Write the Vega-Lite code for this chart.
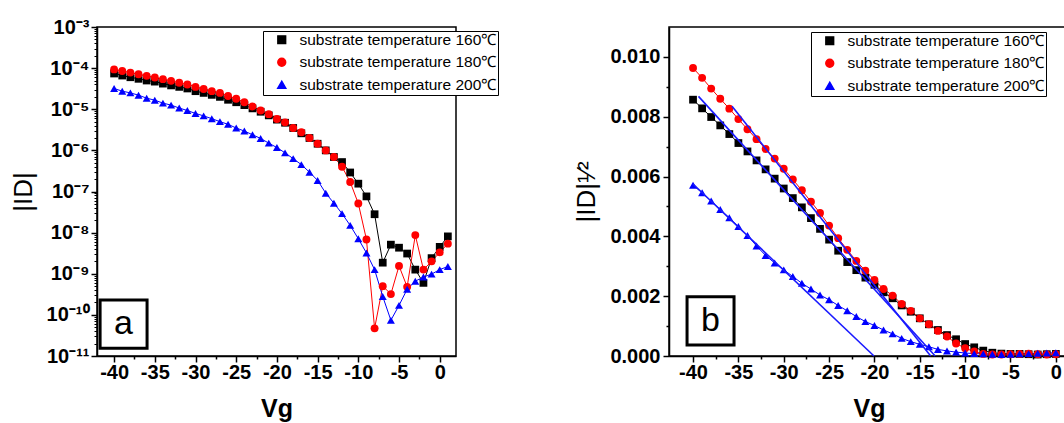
{
"$schema": "https://vega.github.io/schema/vega-lite/v6.json",
"padding": {"left": 9, "top": 16, "right": 0, "bottom": 0},
"background": "white",
"datasets": {
"a": [
{"Vg":-40,"ID":7.4e-5,"s":"160"},{"Vg":-39,"ID":6.6e-5,"s":"160"},{"Vg":-38,"ID":6.0e-5,"s":"160"},{"Vg":-37,"ID":5.5e-5,"s":"160"},{"Vg":-36,"ID":5.0e-5,"s":"160"},{"Vg":-35,"ID":4.7e-5,"s":"160"},{"Vg":-34,"ID":4.2e-5,"s":"160"},{"Vg":-33,"ID":3.8e-5,"s":"160"},{"Vg":-32,"ID":3.5e-5,"s":"160"},{"Vg":-31,"ID":3.2e-5,"s":"160"},{"Vg":-30,"ID":2.75e-5,"s":"160"},{"Vg":-29,"ID":2.5e-5,"s":"160"},{"Vg":-28,"ID":2.24e-5,"s":"160"},{"Vg":-27,"ID":2.0e-5,"s":"160"},{"Vg":-26,"ID":1.7e-5,"s":"160"},{"Vg":-25,"ID":1.48e-5,"s":"160"},{"Vg":-24,"ID":1.26e-5,"s":"160"},{"Vg":-23,"ID":1.05e-5,"s":"160"},{"Vg":-22,"ID":8.7e-6,"s":"160"},{"Vg":-21,"ID":7.1e-6,"s":"160"},{"Vg":-20,"ID":5.6e-6,"s":"160"},{"Vg":-19,"ID":4.7e-6,"s":"160"},{"Vg":-18,"ID":3.5e-6,"s":"160"},{"Vg":-17,"ID":2.6e-6,"s":"160"},{"Vg":-16,"ID":2.0e-6,"s":"160"},{"Vg":-15,"ID":1.45e-6,"s":"160"},{"Vg":-14,"ID":1.0e-6,"s":"160"},{"Vg":-13,"ID":6.9e-7,"s":"160"},{"Vg":-12,"ID":5.2e-7,"s":"160"},{"Vg":-11,"ID":2.9e-7,"s":"160"},{"Vg":-10,"ID":1.55e-7,"s":"160"},{"Vg":-9,"ID":7.6e-8,"s":"160"},{"Vg":-8,"ID":2.8e-8,"s":"160"},{"Vg":-7,"ID":1.86e-9,"s":"160"},{"Vg":-6,"ID":5.1e-9,"s":"160"},{"Vg":-5,"ID":4.3e-9,"s":"160"},{"Vg":-4,"ID":3.1e-9,"s":"160"},{"Vg":-3,"ID":1.26e-9,"s":"160"},{"Vg":-2,"ID":6.0e-10,"s":"160"},{"Vg":-1,"ID":2.4e-9,"s":"160"},{"Vg":0,"ID":4.5e-9,"s":"160"},{"Vg":1,"ID":8.1e-9,"s":"160"},
{"Vg":-40,"ID":9.3e-5,"s":"180"},{"Vg":-39,"ID":8.5e-5,"s":"180"},{"Vg":-38,"ID":7.8e-5,"s":"180"},{"Vg":-37,"ID":7.1e-5,"s":"180"},{"Vg":-36,"ID":6.5e-5,"s":"180"},{"Vg":-35,"ID":5.9e-5,"s":"180"},{"Vg":-34,"ID":5.4e-5,"s":"180"},{"Vg":-33,"ID":4.9e-5,"s":"180"},{"Vg":-32,"ID":4.4e-5,"s":"180"},{"Vg":-31,"ID":4.0e-5,"s":"180"},{"Vg":-30,"ID":3.5e-5,"s":"180"},{"Vg":-29,"ID":3.1e-5,"s":"180"},{"Vg":-28,"ID":2.75e-5,"s":"180"},{"Vg":-27,"ID":2.5e-5,"s":"180"},{"Vg":-26,"ID":2.1e-5,"s":"180"},{"Vg":-25,"ID":1.8e-5,"s":"180"},{"Vg":-24,"ID":1.48e-5,"s":"180"},{"Vg":-23,"ID":1.17e-5,"s":"180"},{"Vg":-22,"ID":9.3e-6,"s":"180"},{"Vg":-21,"ID":7.6e-6,"s":"180"},{"Vg":-20,"ID":5.8e-6,"s":"180"},{"Vg":-19,"ID":4.8e-6,"s":"180"},{"Vg":-18,"ID":3.5e-6,"s":"180"},{"Vg":-17,"ID":2.75e-6,"s":"180"},{"Vg":-16,"ID":2.0e-6,"s":"180"},{"Vg":-15,"ID":1.45e-6,"s":"180"},{"Vg":-14,"ID":1.0e-6,"s":"180"},{"Vg":-13,"ID":6.9e-7,"s":"180"},{"Vg":-12,"ID":4.0e-7,"s":"180"},{"Vg":-11,"ID":1.7e-7,"s":"180"},{"Vg":-10,"ID":5.1e-8,"s":"180"},{"Vg":-9,"ID":6.8e-9,"s":"180"},{"Vg":-8,"ID":4.7e-11,"s":"180"},{"Vg":-7,"ID":5.0e-10,"s":"180"},{"Vg":-6,"ID":3.2e-10,"s":"180"},{"Vg":-5,"ID":1.55e-9,"s":"180"},{"Vg":-4,"ID":4.8e-10,"s":"180"},{"Vg":-3,"ID":8.7e-9,"s":"180"},{"Vg":-2,"ID":1.26e-9,"s":"180"},{"Vg":-1,"ID":2.0e-9,"s":"180"},{"Vg":0,"ID":3.3e-9,"s":"180"},{"Vg":1,"ID":5.4e-9,"s":"180"},
{"Vg":-40,"ID":3.2e-5,"s":"200"},{"Vg":-39,"ID":2.75e-5,"s":"200"},{"Vg":-38,"ID":2.5e-5,"s":"200"},{"Vg":-37,"ID":2.2e-5,"s":"200"},{"Vg":-36,"ID":1.86e-5,"s":"200"},{"Vg":-35,"ID":1.66e-5,"s":"200"},{"Vg":-34,"ID":1.41e-5,"s":"200"},{"Vg":-33,"ID":1.26e-5,"s":"200"},{"Vg":-32,"ID":1.07e-5,"s":"200"},{"Vg":-31,"ID":9.3e-6,"s":"200"},{"Vg":-30,"ID":7.9e-6,"s":"200"},{"Vg":-29,"ID":6.9e-6,"s":"200"},{"Vg":-28,"ID":5.9e-6,"s":"200"},{"Vg":-27,"ID":5.0e-6,"s":"200"},{"Vg":-26,"ID":4.3e-6,"s":"200"},{"Vg":-25,"ID":3.5e-6,"s":"200"},{"Vg":-24,"ID":2.95e-6,"s":"200"},{"Vg":-23,"ID":2.4e-6,"s":"200"},{"Vg":-22,"ID":1.95e-6,"s":"200"},{"Vg":-21,"ID":1.5e-6,"s":"200"},{"Vg":-20,"ID":1.17e-6,"s":"200"},{"Vg":-19,"ID":8.7e-7,"s":"200"},{"Vg":-18,"ID":6.3e-7,"s":"200"},{"Vg":-17,"ID":4.5e-7,"s":"200"},{"Vg":-16,"ID":2.95e-7,"s":"200"},{"Vg":-15,"ID":1.86e-7,"s":"200"},{"Vg":-14,"ID":9.1e-8,"s":"200"},{"Vg":-13,"ID":5.2e-8,"s":"200"},{"Vg":-12,"ID":2.9e-8,"s":"200"},{"Vg":-11,"ID":1.5e-8,"s":"200"},{"Vg":-10,"ID":7.1e-9,"s":"200"},{"Vg":-9,"ID":3.2e-9,"s":"200"},{"Vg":-8,"ID":1.26e-9,"s":"200"},{"Vg":-7,"ID":2.8e-10,"s":"200"},{"Vg":-6,"ID":7.4e-11,"s":"200"},{"Vg":-5,"ID":1.7e-10,"s":"200"},{"Vg":-4,"ID":4.2e-10,"s":"200"},{"Vg":-3,"ID":6.6e-10,"s":"200"},{"Vg":-2,"ID":8.3e-10,"s":"200"},{"Vg":-1,"ID":9.8e-10,"s":"200"},{"Vg":0,"ID":1.26e-9,"s":"200"},{"Vg":1,"ID":1.5e-9,"s":"200"}
],
"b": [
{"Vg":-40,"R":0.00857,"s":"160"},{"Vg":-39,"R":0.00828,"s":"160"},{"Vg":-38,"R":0.00799,"s":"160"},{"Vg":-37,"R":0.00771,"s":"160"},{"Vg":-36,"R":0.00742,"s":"160"},{"Vg":-35,"R":0.00712,"s":"160"},{"Vg":-34,"R":0.00684,"s":"160"},{"Vg":-33,"R":0.00654,"s":"160"},{"Vg":-32,"R":0.00624,"s":"160"},{"Vg":-31,"R":0.00593,"s":"160"},{"Vg":-30,"R":0.0056,"s":"160"},{"Vg":-29,"R":0.00528,"s":"160"},{"Vg":-28,"R":0.00497,"s":"160"},{"Vg":-27,"R":0.00461,"s":"160"},{"Vg":-26,"R":0.00425,"s":"160"},{"Vg":-25,"R":0.00389,"s":"160"},{"Vg":-24,"R":0.00352,"s":"160"},{"Vg":-23,"R":0.00314,"s":"160"},{"Vg":-22,"R":0.00287,"s":"160"},{"Vg":-21,"R":0.00262,"s":"160"},{"Vg":-20,"R":0.00238,"s":"160"},{"Vg":-19,"R":0.00213,"s":"160"},{"Vg":-18,"R":0.00193,"s":"160"},{"Vg":-17,"R":0.00169,"s":"160"},{"Vg":-16,"R":0.00148,"s":"160"},{"Vg":-15,"R":0.00126,"s":"160"},{"Vg":-14,"R":0.00106,"s":"160"},{"Vg":-13,"R":0.00087,"s":"160"},{"Vg":-12,"R":0.0007,"s":"160"},{"Vg":-11,"R":0.00056,"s":"160"},{"Vg":-10,"R":0.0004,"s":"160"},{"Vg":-9,"R":0.00029,"s":"160"},{"Vg":-8,"R":0.00018,"s":"160"},{"Vg":-7,"R":0.00011,"s":"160"},{"Vg":-6,"R":0.00008,"s":"160"},{"Vg":-5,"R":0.00007,"s":"160"},{"Vg":-4,"R":0.00007,"s":"160"},{"Vg":-3,"R":0.00006,"s":"160"},{"Vg":-2,"R":0.00005,"s":"160"},{"Vg":-1,"R":0.00006,"s":"160"},{"Vg":0,"R":0.00007,"s":"160"},
{"Vg":-40,"R":0.00963,"s":"180"},{"Vg":-39,"R":0.0093,"s":"180"},{"Vg":-38,"R":0.00894,"s":"180"},{"Vg":-37,"R":0.0086,"s":"180"},{"Vg":-36,"R":0.00827,"s":"180"},{"Vg":-35,"R":0.00792,"s":"180"},{"Vg":-34,"R":0.00758,"s":"180"},{"Vg":-33,"R":0.00725,"s":"180"},{"Vg":-32,"R":0.00692,"s":"180"},{"Vg":-31,"R":0.0066,"s":"180"},{"Vg":-30,"R":0.00626,"s":"180"},{"Vg":-29,"R":0.0059,"s":"180"},{"Vg":-28,"R":0.00554,"s":"180"},{"Vg":-27,"R":0.00516,"s":"180"},{"Vg":-26,"R":0.00478,"s":"180"},{"Vg":-25,"R":0.00436,"s":"180"},{"Vg":-24,"R":0.00394,"s":"180"},{"Vg":-23,"R":0.00355,"s":"180"},{"Vg":-22,"R":0.00318,"s":"180"},{"Vg":-21,"R":0.00285,"s":"180"},{"Vg":-20,"R":0.00254,"s":"180"},{"Vg":-19,"R":0.00224,"s":"180"},{"Vg":-18,"R":0.00202,"s":"180"},{"Vg":-17,"R":0.00174,"s":"180"},{"Vg":-16,"R":0.00151,"s":"180"},{"Vg":-15,"R":0.00126,"s":"180"},{"Vg":-14,"R":0.00106,"s":"180"},{"Vg":-13,"R":0.00084,"s":"180"},{"Vg":-12,"R":0.00065,"s":"180"},{"Vg":-11,"R":0.00042,"s":"180"},{"Vg":-10,"R":0.00026,"s":"180"},{"Vg":-9,"R":0.00015,"s":"180"},{"Vg":-8,"R":0.00007,"s":"180"},{"Vg":-7,"R":0.00005,"s":"180"},{"Vg":-6,"R":0.00005,"s":"180"},{"Vg":-5,"R":0.00006,"s":"180"},{"Vg":-4,"R":0.00007,"s":"180"},{"Vg":-3,"R":0.00008,"s":"180"},{"Vg":-2,"R":0.00006,"s":"180"},{"Vg":-1,"R":0.00005,"s":"180"},{"Vg":0,"R":0.00006,"s":"180"},
{"Vg":-40,"R":0.00571,"s":"200"},{"Vg":-39,"R":0.00546,"s":"200"},{"Vg":-38,"R":0.00518,"s":"200"},{"Vg":-37,"R":0.0049,"s":"200"},{"Vg":-36,"R":0.00462,"s":"200"},{"Vg":-35,"R":0.00433,"s":"200"},{"Vg":-34,"R":0.00403,"s":"200"},{"Vg":-33,"R":0.00368,"s":"200"},{"Vg":-32,"R":0.00336,"s":"200"},{"Vg":-31,"R":0.00311,"s":"200"},{"Vg":-30,"R":0.00288,"s":"200"},{"Vg":-29,"R":0.00266,"s":"200"},{"Vg":-28,"R":0.00243,"s":"200"},{"Vg":-27,"R":0.00224,"s":"200"},{"Vg":-26,"R":0.00204,"s":"200"},{"Vg":-25,"R":0.00188,"s":"200"},{"Vg":-24,"R":0.00169,"s":"200"},{"Vg":-23,"R":0.00151,"s":"200"},{"Vg":-22,"R":0.00132,"s":"200"},{"Vg":-21,"R":0.00115,"s":"200"},{"Vg":-20,"R":0.00102,"s":"200"},{"Vg":-19,"R":0.00087,"s":"200"},{"Vg":-18,"R":0.00074,"s":"200"},{"Vg":-17,"R":0.00059,"s":"200"},{"Vg":-16,"R":0.00048,"s":"200"},{"Vg":-15,"R":0.00039,"s":"200"},{"Vg":-14,"R":0.00031,"s":"200"},{"Vg":-13,"R":0.00022,"s":"200"},{"Vg":-12,"R":0.00017,"s":"200"},{"Vg":-11,"R":0.00013,"s":"200"},{"Vg":-10,"R":0.0001,"s":"200"},{"Vg":-9,"R":0.00008,"s":"200"},{"Vg":-8,"R":0.00007,"s":"200"},{"Vg":-7,"R":0.00006,"s":"200"},{"Vg":-6,"R":0.00005,"s":"200"},{"Vg":-5,"R":0.00006,"s":"200"},{"Vg":-4,"R":0.00007,"s":"200"},{"Vg":-3,"R":0.00008,"s":"200"},{"Vg":-2,"R":0.00009,"s":"200"},{"Vg":-1,"R":0.0001,"s":"200"},{"Vg":0,"R":0.00011,"s":"200"}
],
"fit": [
{"fit":"f160","Vg":-39.4,"R":0.00868},{"fit":"f160","Vg":-13.3,"R":0},
{"fit":"f180","Vg":-35.7,"R":0.00835},{"fit":"f180","Vg":-13.8,"R":0},
{"fit":"f200","Vg":-40,"R":0.00575},{"fit":"f200","Vg":-20.05,"R":0}
],
"one": [{}]
},
"hconcat": [
{
"width": 359, "height": 329,
"layer": [
{"data": {"name": "a"}, "mark": {"type": "line", "strokeWidth": 1},
 "encoding": {
  "x": {"field": "Vg", "type": "quantitative", "scale": {"domain": [-42.1, 2.0], "nice": false, "zero": false},
        "axis": {"orient": "bottom", "values": [-40,-35,-30,-25,-20,-15,-10,-5,0], "labelExpr": "'' + datum.value", "tickSize": 6, "labelPadding": 0, "title": "Vg", "titleFontSize": 25, "titleFontWeight": "bold", "titlePadding": 14}},
  "y": {"field": "ID", "type": "quantitative", "scale": {"type": "log", "domain": [1e-11, 1e-3], "nice": false},
        "axis": {"orient": "left", "values": [1e-11,1e-10,1e-9,1e-8,1e-7,1e-6,1e-5,1e-4,1e-3], "labelExpr": "'10' + ['⁻³','⁻⁴','⁻⁵','⁻⁶','⁻⁷','⁻⁸','⁻⁹','⁻¹⁰','⁻¹¹'][round(-log(datum.value)/LN10) - 3]", "tickSize": 6, "labelPadding": 2, "title": "|ID|", "titleFontSize": 26, "titleFontWeight": "normal", "titlePadding": 10}},
  "color": {"field": "s", "type": "nominal", "scale": {"domain": ["160","180","200"], "range": ["#000000","#ff0000","#0000ff"]},
        "legend": {"title": null, "orient": "none", "legendX": 166, "legendY": 4, "labelExpr": "'substrate temperature ' + datum.label + '℃'", "labelLimit": 0, "labelFont": "Liberation Sans", "labelFontSize": 15.5, "labelColor": "black", "symbolSize": 400, "symbolOffset": 10, "labelOffset": 10, "padding": 1, "rowPadding": 5.5, "strokeColor": "black", "fillColor": "white"}}
 }},
{"data": {"name": "a"}, "mark": {"type": "point", "filled": true, "opacity": 1},
 "encoding": {
  "x": {"field": "Vg", "type": "quantitative", "scale": {"domain": [-42.1, 2.0], "nice": false, "zero": false}, "axis": null},
  "y": {"field": "ID", "type": "quantitative", "scale": {"type": "log", "domain": [1e-11, 1e-3], "nice": false}, "axis": null},
  "color": {"field": "s", "type": "nominal", "scale": {"domain": ["160","180","200"], "range": ["#000000","#ff0000","#0000ff"]},
        "legend": {"title": null, "orient": "none", "legendX": 166, "legendY": 4, "labelExpr": "'substrate temperature ' + datum.label + '℃'", "labelLimit": 0, "labelFont": "Liberation Sans", "labelFontSize": 15.5, "labelColor": "black", "symbolSize": 400, "symbolOffset": 10, "labelOffset": 10, "padding": 1, "rowPadding": 5.5, "strokeColor": "black", "fillColor": "white"}},
  "shape": {"field": "s", "type": "nominal", "scale": {"domain": ["160","180","200"], "range": ["square","circle","triangle-up"]}, "legend": null},
  "size": {"field": "s", "type": "nominal", "scale": {"domain": ["160","180","200"], "range": [60, 64, 90]}, "legend": null}
 }},
{"data": {"name": "a"}, "mark": {"type": "point", "opacity": 0},
 "encoding": {
  "x": {"field": "Vg", "type": "quantitative", "scale": {"domain": [-42.1, 2.0], "nice": false, "zero": false},
        "axis": {"orient": "bottom", "values": [-37.5,-32.5,-27.5,-22.5,-17.5,-12.5,-7.5,-2.5], "tickSize": 3, "labels": false, "domain": false, "title": null}},
  "y": {"field": "ID", "type": "quantitative", "scale": {"type": "log", "domain": [1e-11, 1e-3], "nice": false},
        "axis": {"orient": "left", "values": [2e-11,3e-11,4e-11,5e-11,6e-11,7e-11,8e-11,9e-11,2e-10,3e-10,4e-10,5e-10,6e-10,7e-10,8e-10,9e-10,2e-9,3e-9,4e-9,5e-9,6e-9,7e-9,8e-9,9e-9,2e-8,3e-8,4e-8,5e-8,6e-8,7e-8,8e-8,9e-8,2e-7,3e-7,4e-7,5e-7,6e-7,7e-7,8e-7,9e-7,2e-6,3e-6,4e-6,5e-6,6e-6,7e-6,8e-6,9e-6,2e-5,3e-5,4e-5,5e-5,6e-5,7e-5,8e-5,9e-5,2e-4,3e-4,4e-4,5e-4,6e-4,7e-4,8e-4,9e-4], "tickSize": 3, "tickWidth": 1, "labels": false, "domain": false, "title": null}}
 }},
{"data": {"name": "one"}, "mark": {"type": "rect", "filled": false, "stroke": "black", "strokeWidth": 3},
 "encoding": {
  "x": {"datum": -41.72, "type": "quantitative", "scale": {"domain": [-42.1, 2.0], "nice": false, "zero": false}, "axis": null},
  "x2": {"datum": -35.95},
  "y": {"datum": 2.3e-10, "type": "quantitative", "scale": {"type": "log", "domain": [1e-11, 1e-3], "nice": false}, "axis": null},
  "y2": {"datum": 1.55e-11}
 }},
{"data": {"name": "one"}, "mark": {"type": "text", "text": "a", "font": "Liberation Sans", "fontSize": 34, "align": "center", "baseline": "middle", "color": "black"},
 "encoding": {
  "x": {"datum": -38.84, "type": "quantitative", "scale": {"domain": [-42.1, 2.0], "nice": false, "zero": false}, "axis": null},
  "y": {"datum": 5.9e-11, "type": "quantitative", "scale": {"type": "log", "domain": [1e-11, 1e-3], "nice": false}, "axis": null}
 }}
],
"resolve": {"axis": {"x": "independent", "y": "independent"}}
},
{
"width": 400, "height": 329,
"layer": [
{"data": {"name": "b"}, "mark": {"type": "line", "strokeWidth": 1},
 "encoding": {
  "x": {"field": "Vg", "type": "quantitative", "scale": {"domain": [-42.65, 1.45], "nice": false, "zero": false},
        "axis": {"orient": "bottom", "values": [-40,-35,-30,-25,-20,-15,-10,-5,0], "labelExpr": "'' + datum.value", "tickSize": 6, "labelPadding": 0, "title": "Vg", "titleFontSize": 25, "titleFontWeight": "bold", "titlePadding": 14}},
  "y": {"field": "R", "type": "quantitative", "scale": {"domain": [0, 0.011], "nice": false},
        "axis": {"orient": "left", "values": [0,0.002,0.004,0.006,0.008,0.01], "labelExpr": "format(datum.value, '.3f')", "tickSize": 6, "labelPadding": 3, "title": "|ID|¹⁄²", "titleFontSize": 26, "titleFontWeight": "normal", "titlePadding": 10}},
  "color": {"field": "s", "type": "nominal", "scale": {"domain": ["160","180","200"], "range": ["#000000","#ff0000","#0000ff"]},
        "legend": {"title": null, "orient": "none", "legendX": 142, "legendY": 5, "labelExpr": "'substrate temperature ' + datum.label + '℃'", "labelLimit": 0, "labelFont": "Liberation Sans", "labelFontSize": 15.5, "labelColor": "black", "symbolSize": 400, "symbolOffset": 10, "labelOffset": 10, "padding": 1, "rowPadding": 5.5, "strokeColor": "black", "fillColor": "white"}}
 }},
{"data": {"name": "b"}, "mark": {"type": "point", "filled": true, "opacity": 1},
 "encoding": {
  "x": {"field": "Vg", "type": "quantitative", "scale": {"domain": [-42.65, 1.45], "nice": false, "zero": false}, "axis": null},
  "y": {"field": "R", "type": "quantitative", "scale": {"domain": [0, 0.011], "nice": false}, "axis": null},
  "color": {"field": "s", "type": "nominal", "scale": {"domain": ["160","180","200"], "range": ["#000000","#ff0000","#0000ff"]},
        "legend": {"title": null, "orient": "none", "legendX": 142, "legendY": 5, "labelExpr": "'substrate temperature ' + datum.label + '℃'", "labelLimit": 0, "labelFont": "Liberation Sans", "labelFontSize": 15.5, "labelColor": "black", "symbolSize": 400, "symbolOffset": 10, "labelOffset": 10, "padding": 1, "rowPadding": 5.5, "strokeColor": "black", "fillColor": "white"}},
  "shape": {"field": "s", "type": "nominal", "scale": {"domain": ["160","180","200"], "range": ["square","circle","triangle-up"]}, "legend": null},
  "size": {"field": "s", "type": "nominal", "scale": {"domain": ["160","180","200"], "range": [60, 64, 90]}, "legend": null}
 }},
{"data": {"name": "fit"}, "mark": {"type": "line", "strokeWidth": 1.6, "color": "#1a1aff"},
 "encoding": {
  "x": {"field": "Vg", "type": "quantitative", "scale": {"domain": [-42.65, 1.45], "nice": false, "zero": false}, "axis": null},
  "y": {"field": "R", "type": "quantitative", "scale": {"domain": [0, 0.011], "nice": false}, "axis": null},
  "detail": {"field": "fit", "type": "nominal"}
 }},
{"data": {"name": "b"}, "mark": {"type": "point", "opacity": 0},
 "encoding": {
  "x": {"field": "Vg", "type": "quantitative", "scale": {"domain": [-42.65, 1.45], "nice": false, "zero": false},
        "axis": {"orient": "bottom", "values": [-37.5,-32.5,-27.5,-22.5,-17.5,-12.5,-7.5,-2.5], "tickSize": 3, "labels": false, "domain": false, "title": null}},
  "y": {"field": "R", "type": "quantitative", "scale": {"domain": [0, 0.011], "nice": false},
        "axis": {"orient": "left", "values": [0.001,0.003,0.005,0.007,0.009], "tickSize": 3, "labels": false, "domain": false, "title": null}}
 }},
{"data": {"name": "one"}, "mark": {"type": "rect", "filled": false, "stroke": "black", "strokeWidth": 3},
 "encoding": {
  "x": {"datum": -40.66, "type": "quantitative", "scale": {"domain": [-42.65, 1.45], "nice": false, "zero": false}, "axis": null},
  "x2": {"datum": -35.48},
  "y": {"datum": 0.00198, "type": "quantitative", "scale": {"domain": [0, 0.011], "nice": false}, "axis": null},
  "y2": {"datum": 0.00037}
 }},
{"data": {"name": "one"}, "mark": {"type": "text", "text": "b", "font": "Liberation Sans", "fontSize": 34, "align": "center", "baseline": "middle", "color": "black"},
 "encoding": {
  "x": {"datum": -38.07, "type": "quantitative", "scale": {"domain": [-42.65, 1.45], "nice": false, "zero": false}, "axis": null},
  "y": {"datum": 0.00117, "type": "quantitative", "scale": {"domain": [0, 0.011], "nice": false}, "axis": null}
 }}
],
"resolve": {"axis": {"x": "independent", "y": "independent"}}
}
],
"spacing": 73,
"resolve": {"scale": {"color": "independent", "shape": "independent", "size": "independent"}, "legend": {"color": "independent", "shape": "independent"}},
"config": {
 "font": "Liberation Sans",
 "view": {"stroke": "black", "strokeWidth": 1.5},
 "axis": {"domainColor": "black", "domainWidth": 1.5, "tickColor": "black", "tickWidth": 1.5, "labelColor": "black", "labelFont": "Liberation Sans", "labelFontWeight": "bold", "labelFontSize": 20, "titleFont": "Liberation Sans", "titleColor": "black", "grid": false, "labelFlush": false, "labelOverlap": false}
}
}
